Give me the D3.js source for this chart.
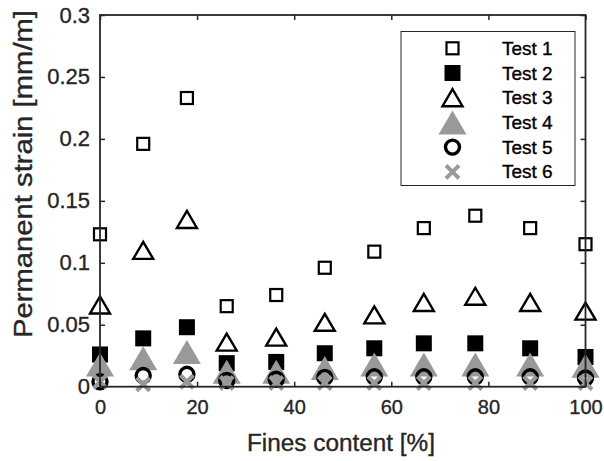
<!DOCTYPE html>
<html>
<head>
<meta charset="utf-8">
<script src="https://cdn.jsdelivr.net/npm/d3@7"></script>
<style>
  html, body { margin: 0; padding: 0; background: #fff; }
  svg { display: block; font-family: "Liberation Sans", Arial, Helvetica, sans-serif; }
</style>
</head>
<body>
<svg id="chart" width="604" height="461"></svg>
<script>
// Fines content of each mix [%]
const finesContent = [0, 8.9, 17.9, 26.1, 36.3, 46.3, 56.5, 66.7, 77.3, 88.6, 100];

// Permanent strain [mm/m] per test
const test1 = [0.123, 0.196, 0.233, 0.065, 0.074, 0.096, 0.109, 0.128, 0.138, 0.128, 0.115];
const test2 = [0.026, 0.039, 0.048, 0.019, 0.020, 0.027, 0.031, 0.035, 0.035, 0.031, 0.024];
const test3 = [0.066, 0.110, 0.135, 0.036, 0.040, 0.052, 0.058, 0.068, 0.073, 0.068, 0.061];
const test4 = [0.018, 0.023, 0.028, 0.012, 0.012, 0.015, 0.018, 0.018, 0.018, 0.018, 0.017];
const test5 = [0.004, 0.009, 0.010, 0.005, 0.006, 0.0075, 0.008, 0.008, 0.008, 0.008, 0.007];
const test6 = [0.004, 0.002, 0.004, 0.003, 0.003, 0.003, 0.003, 0.003, 0.003, 0.003, 0.003];

const seriesNames = ["Test 1", "Test 2", "Test 3", "Test 4", "Test 5", "Test 6"];
const seriesValues = [test1, test2, test3, test4, test5, test6];
const markerKinds = ["openSquare", "filledSquare", "openTriangle", "greyTriangle", "openCircle", "greyCross"];

const xTicks = [0, 20, 40, 60, 80, 100];
const yTicks = [0, 0.05, 0.1, 0.15, 0.2, 0.25, 0.3];

const W = 604, H = 461;
const margin = { left: 100, right: 18.5, top: 15, bottom: 74.3 };
const axisColor = "#262626";
const grey = "#999999";
const textHalo = 0.35; // slight stroke to give the labels a heavier weight

const svg = d3.select("#chart");
svg.append("rect").attr("width", W).attr("height", H).attr("fill", "#fff");

const x = d3.scaleLinear().domain([0, 100]).range([margin.left, W - margin.right]);
const y = d3.scaleLinear().domain([0, 0.3]).range([H - margin.bottom, margin.top]);

// Marker drawing functions, each appends to a group centred at (0,0)
function drawMarker(g, kind) {
  switch (kind) {
    case "openSquare":
      g.append("rect").attr("x", -6).attr("y", -6).attr("width", 12).attr("height", 12)
        .attr("fill", "none").attr("stroke", "#000").attr("stroke-width", 2.2);
      break;
    case "filledSquare":
      g.append("rect").attr("x", -8).attr("y", -8).attr("width", 16).attr("height", 16)
        .attr("fill", "#000");
      break;
    case "openTriangle":
      g.append("path").attr("d", "M0,-8.5 L10,8.5 L-10,8.5 Z")
        .attr("fill", "none").attr("stroke", "#000").attr("stroke-width", 2.4)
        .attr("stroke-linejoin", "miter");
      break;
    case "greyTriangle":
      g.append("path").attr("d", "M0,-12 L14,12 L-14,12 Z").attr("fill", grey);
      break;
    case "openCircle":
      g.append("circle").attr("r", 7).attr("fill", "none")
        .attr("stroke", "#000").attr("stroke-width", 3.4);
      break;
    case "greyCross":
      g.append("path").attr("d", "M-6.5,-6.5 L6.5,6.5 M-6.5,6.5 L6.5,-6.5")
        .attr("stroke", grey).attr("stroke-width", 4).attr("fill", "none");
      break;
  }
}

// Data markers
const plot = svg.append("g");
seriesValues.forEach((vals, si) => {
  const sg = plot.append("g").attr("class", "series-" + (si + 1));
  vals.forEach((v, i) => {
    const g = sg.append("g").attr("transform", `translate(${x(finesContent[i])},${y(v)})`);
    drawMarker(g, markerKinds[si]);
  });
});

// Axes: inward ticks on all four sides, labels on left and bottom
const tickLen = 5;
const xAxis = d3.axisBottom(x).tickValues(xTicks).tickFormat(d3.format("d"))
  .tickSizeInner(-tickLen).tickSizeOuter(0).tickPadding(13);
const yAxis = d3.axisLeft(y).tickValues(yTicks).tickFormat(d => d === 0 ? "0" : String(+d.toFixed(2)))
  .tickSizeInner(-tickLen).tickSizeOuter(0).tickPadding(10);
const xTop = d3.axisTop(x).tickValues(xTicks).tickFormat("").tickSizeInner(-tickLen).tickSizeOuter(0);
const yRight = d3.axisRight(y).tickValues(yTicks).tickFormat("").tickSizeInner(-tickLen).tickSizeOuter(0);

function styleAxis(size) {
  return g => {
    g.select(".domain").remove();
    g.selectAll(".tick line").attr("stroke", axisColor).attr("stroke-width", 1.5);
    g.selectAll(".tick text").attr("fill", axisColor).attr("font-size", size)
      .attr("stroke", axisColor).attr("stroke-width", textHalo)
      .attr("font-family", "'Liberation Sans', Arial, sans-serif");
  };
}

svg.append("g").attr("transform", `translate(0,${H - margin.bottom})`).call(xAxis).call(styleAxis(20));
svg.append("g").attr("transform", `translate(${margin.left},0)`).call(yAxis).call(styleAxis(22));
svg.append("g").attr("transform", `translate(0,${margin.top})`).call(xTop).call(styleAxis(20));
svg.append("g").attr("transform", `translate(${W - margin.right},0)`).call(yRight).call(styleAxis(20));

// Axes box
svg.append("rect")
  .attr("x", margin.left).attr("y", margin.top)
  .attr("width", W - margin.left - margin.right)
  .attr("height", H - margin.top - margin.bottom)
  .attr("fill", "none").attr("stroke", axisColor).attr("stroke-width", 1.8);

// Axis titles
svg.append("text")
  .attr("x", 341).attr("y", 451)
  .attr("text-anchor", "middle").attr("font-size", 23).attr("fill", axisColor)
  .attr("stroke", axisColor).attr("stroke-width", textHalo)
  .attr("textLength", 188).attr("lengthAdjust", "spacingAndGlyphs")
  .text("Fines content [%]");

svg.append("text")
  .attr("transform", `translate(32,174) rotate(-90)`)
  .attr("text-anchor", "middle").attr("font-size", 25).attr("fill", axisColor)
  .attr("stroke", axisColor).attr("stroke-width", textHalo)
  .attr("textLength", 328).attr("lengthAdjust", "spacingAndGlyphs")
  .text("Permanent strain [mm/m]");

// Legend
const legend = svg.append("g");
legend.append("rect")
  .attr("x", 401).attr("y", 31.5).attr("width", 174).attr("height", 154)
  .attr("fill", "#fff").attr("stroke", axisColor).attr("stroke-width", 1);
seriesNames.forEach((name, i) => {
  const cy = 48.3 + i * 24.7;
  const mg = legend.append("g").attr("transform", `translate(452.5,${cy})`);
  drawMarker(mg, markerKinds[i]);
  legend.append("text")
    .attr("x", 502).attr("y", cy).attr("dy", "0.35em")
    .attr("font-size", 19).attr("fill", "#000")
    .attr("stroke", "#000").attr("stroke-width", textHalo)
    .text(name);
});
</script>
</body>
</html>
